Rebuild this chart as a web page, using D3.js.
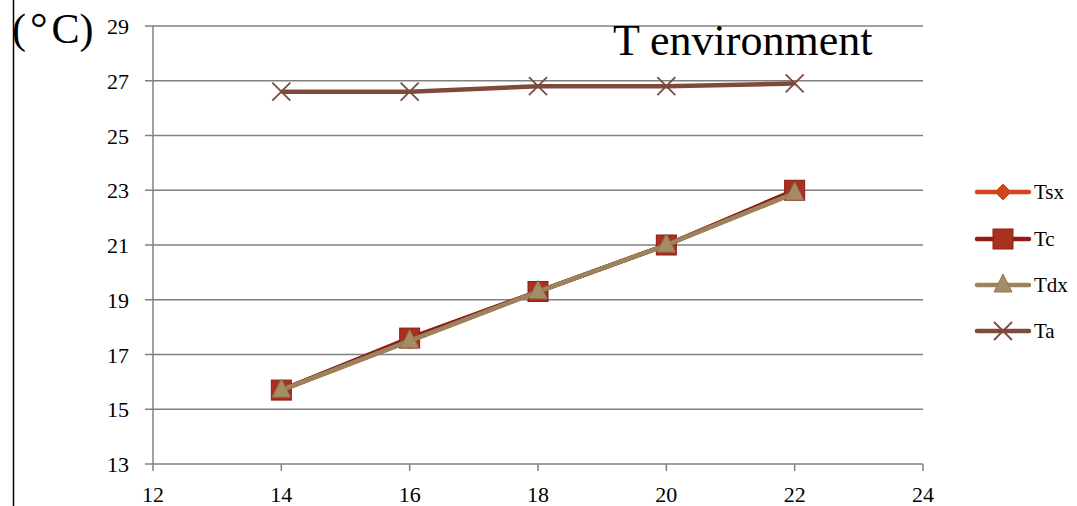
<!DOCTYPE html>
<html>
<head>
<meta charset="utf-8">
<script src="https://cdn.jsdelivr.net/npm/d3@7"></script>
<style>
  body { margin: 0; background: #fff; }
  svg text { font-family: "Liberation Serif", "DejaVu Serif", serif; fill: #000; }
</style>
</head>
<body>
<svg id="chart" width="1077" height="506"></svg>
<script>
// x values (hours) and series readings
const hours = [14, 16, 18, 20, 22];
const tsx = [15.7, 17.5, 19.3, 21.0, 22.9];
const tc  = [15.7, 17.6, 19.3, 21.0, 23.0];
const tdx = [15.7, 17.5, 19.3, 21.0, 22.9];
const ta  = [26.6, 26.6, 26.8, 26.8, 26.9];
const xTicks = [12, 14, 16, 18, 20, 22, 24];
const yTicks = [13, 15, 17, 19, 21, 23, 25, 27, 29];

const series = [
  { name: 'Tsx', values: tsx, color: '#d0461a', marker: 'diamond', mfill: '#d0461a' },
  { name: 'Tc',  values: tc,  color: '#8e1c14', marker: 'square',  mfill: '#a8321f' },
  { name: 'Tdx', values: tdx, color: '#9a845e', marker: 'triangle', mfill: '#a38c66' },
  { name: 'Ta',  values: ta,  color: '#7d4a3c', marker: 'cross',   mfill: '#7d4a3c' }
];

const svg = d3.select('#chart');

// left border line
svg.append('line')
  .attr('x1', 13.5).attr('x2', 13.5).attr('y1', 0).attr('y2', 506)
  .attr('stroke', '#000').attr('stroke-width', 1.5);

const x = d3.scaleLinear().domain([12, 24]).range([153, 923]);
const y = d3.scaleLinear().domain([13, 29]).range([464, 26]);

// horizontal gridlines
svg.append('g')
  .selectAll('line')
  .data(yTicks)
  .enter().append('line')
  .attr('x1', 145).attr('x2', 923)
  .attr('y1', d => y(d)).attr('y2', d => y(d))
  .attr('stroke', '#808080').attr('stroke-width', 1.5);

// y axis
svg.append('line')
  .attr('x1', x(12)).attr('x2', x(12)).attr('y1', y(29)).attr('y2', y(13))
  .attr('stroke', '#808080').attr('stroke-width', 1.5);

svg.append('g')
  .selectAll('text')
  .data(yTicks)
  .enter().append('text')
  .attr('x', 129).attr('y', d => y(d) + 8)
  .attr('text-anchor', 'end')
  .style('font-size', '22px')
  .text(d => d);

// x axis ticks
svg.append('g')
  .selectAll('line')
  .data(xTicks)
  .enter().append('line')
  .attr('x1', d => x(d)).attr('x2', d => x(d))
  .attr('y1', y(13)).attr('y2', y(13) + 7)
  .attr('stroke', '#808080').attr('stroke-width', 1.5);

svg.append('g')
  .selectAll('text')
  .data(xTicks)
  .enter().append('text')
  .attr('x', d => x(d)).attr('y', 502)
  .attr('text-anchor', 'middle')
  .style('font-size', '22px')
  .text(d => d);

// titles
const unit = svg.append('text')
  .attr('x', 12).attr('y', 43)
  .style('font-size', '42px');
unit.append('tspan').text('(');
unit.append('tspan').attr('dx', 4).style('font-size', '44px').text('°');
unit.append('tspan').attr('dx', 4).text('C)');

svg.append('text')
  .attr('x', 613).attr('y', 55)
  .style('font-size', '44px')
  .text('T environment');

// marker drawing
function drawMarker(sel, s) {
  if (s.marker === 'diamond') {
    sel.append('path').attr('d', 'M0,-8L8,0L0,8L-8,0Z')
      .attr('fill', s.mfill).attr('stroke', s.color).attr('stroke-width', 1);
  } else if (s.marker === 'square') {
    sel.append('rect').attr('x', -10).attr('y', -10).attr('width', 20).attr('height', 20)
      .attr('fill', s.mfill).attr('stroke', '#8e1c14').attr('stroke-width', 1);
  } else if (s.marker === 'triangle') {
    sel.append('path').attr('d', 'M0,-11L9,7L-9,7Z')
      .attr('fill', s.mfill).attr('stroke', '#8f7a55').attr('stroke-width', 1);
  } else {
    sel.append('path').attr('d', 'M-9,-9L9,9M-9,9L9,-9')
      .attr('stroke', s.color).attr('stroke-width', 1.8).attr('fill', 'none');
  }
}

const line = d3.line()
  .x((d, i) => x(hours[i]))
  .y(d => y(d));

series.forEach(s => {
  svg.append('path')
    .datum(s.values)
    .attr('fill', 'none')
    .attr('stroke', s.color)
    .attr('stroke-width', 4.5)
    .attr('stroke-linejoin', 'round')
    .attr('d', line);
  s.values.forEach((v, i) => {
    const g = svg.append('g').attr('transform', `translate(${x(hours[i])},${y(v)})`);
    drawMarker(g, s);
  });
});

// legend
const legendY = [192, 239, 285, 331];
series.forEach((s, i) => {
  const g = svg.append('g').attr('transform', `translate(0,${legendY[i]})`);
  g.append('line')
    .attr('x1', 977).attr('x2', 1029).attr('y1', 0).attr('y2', 0)
    .attr('stroke', s.color).attr('stroke-width', 4.5).attr('stroke-linecap', 'round');
  const m = g.append('g').attr('transform', 'translate(1003,0)');
  drawMarker(m, s);
  g.append('text')
    .attr('x', 1034).attr('y', 7)
    .style('font-size', '21px')
    .text(s.name);
});
</script>
</body>
</html>
